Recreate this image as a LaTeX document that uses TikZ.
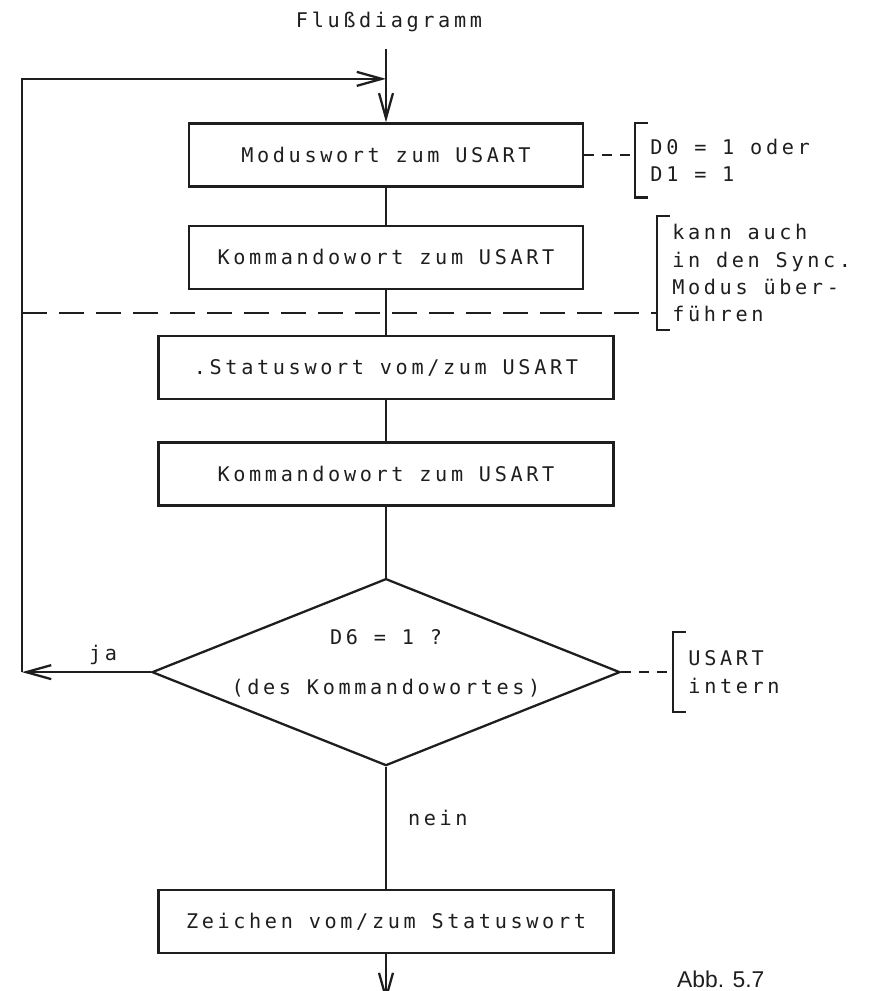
\documentclass[tikz,border=0pt]{standalone}
\usepackage{fontspec}
\usepackage{tikz}
\usetikzlibrary{positioning,arrows.meta,shapes.geometric}
\newfontfamily\dotfont[LetterSpace=18]{DejaVu Sans Mono}
\newfontfamily\abbfont{Liberation Sans}
\definecolor{ink}{RGB}{30,30,30}
\tikzset{
  stepbox/.style={rectangle, draw=ink, line width=1.3pt, minimum height=12.6mm,
    minimum width=78.8mm, inner sep=0pt},
  widebox/.style={stepbox, minimum width=91mm},
  decision/.style={diamond, draw=ink, line width=1.3pt, minimum width=93.6mm,
    minimum height=37.4mm, inner sep=0pt},
  note/.style={align=left, anchor=west, inner xsep=3mm, inner ysep=0pt},
  flow/.style={draw=ink, line width=1.3pt},
  arr/.style={flow, -{Straight Barb[length=5mm,width=2.8mm]}},
  cutline/.style={flow, dash pattern=on 5mm off 2.4mm},
  tie/.style={flow, dash pattern=on 2mm off 1.6mm},
}

\begin{document}
\begin{tikzpicture}[font=\dotfont\fontsize{11.5}{15.4}\selectfont, text=ink]
  \useasboundingbox (0,0) rectangle (17.62,-19.82);

  \node (title) at (7.78,-0.44) {Flußdiagramm};

  \node[stepbox] (box1) at (7.72,-3.10) {Moduswort zum USART};
  \node[stepbox, below=7.4mm of box1] (box2) {Kommandowort zum USART};
  \node[widebox, below=9mm of box2] (box3) {.Statuswort vom/zum USART};
  \node[widebox, below=8.2mm of box3] (box4) {Kommandowort zum USART};
  \node[decision, below=14.2mm of box4] (dec) {};
  \node (q1) at ([yshift=7mm]dec.center) {D6 = 1 ?};
  \node (q2) at ([yshift=-3.2mm]dec.center) {(des Kommandowortes)};
  \node[widebox, below=24.4mm of dec] (box5) {Zeichen vom/zum Statuswort};

  \node[note, minimum height=14.8mm, right=10.2mm of box1, yshift=-1mm] (n1) {D0 = 1 oder\\D1 = 1};
  \node[note, minimum height=22.6mm] (n2) at (13.14,-5.46) {kann auch\\in den Sync.\\Modus über-\\führen};
  \node[note, minimum height=15.8mm, right=10.4mm of dec] (n3) {USART\\intern};

  \node[anchor=base west, font=\abbfont\fontsize{13}{15}\selectfont] (abb) at (13.42,-19.74) {Abb. 5.7};

  \coordinate (entry) at ([yshift=14.7mm]box1.north);
  \coordinate (merge) at ([yshift=8.7mm]box1.north);
  \coordinate (lft) at (0.44,0);
  \coordinate (back) at (dec.west -| lft);
  \coordinate (cut) at (0.44,-6.26);
  \coordinate (exit) at ([yshift=-9.6mm]box5.south);

  \draw[arr] (entry) -- (box1);
  \draw[flow] (box1) -- (box2);
  \draw[flow] (box2) -- (box3);
  \draw[flow] (box3) -- (box4);
  \draw[flow] (box4) -- (dec);
  \draw[flow] (dec) -- node[pos=0.42, right=3mm]{nein} (box5);
  \draw[arr] (box5) -- (exit);
  \draw[arr] (dec) -- node[above, pos=0.37]{ja} (back);
  \draw[arr] (back) |- (merge);

  \draw[tie] (box1) -- (box1 -| n1.west);
  \draw[cutline] (cut) -- (cut -| n2.west);
  \draw[tie] (dec) -- (dec -| n3.west);
  \foreach \n in {n1,n2,n3}
    \draw[flow] ([xshift=2.5mm]\n.north west) -| (\n.west) |- ([xshift=2.5mm]\n.south west);
\end{tikzpicture}
\end{document}
